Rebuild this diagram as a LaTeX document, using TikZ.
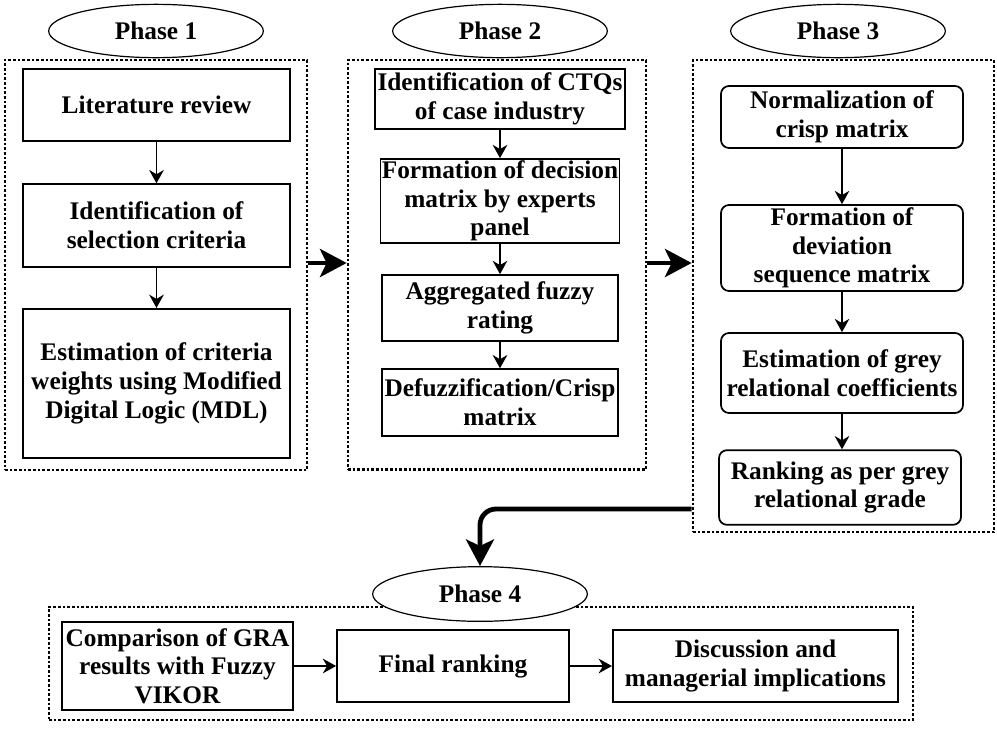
\documentclass[tikz,border=0pt]{standalone}
\usepackage{fontspec}
\setmainfont{Liberation Serif}
\usetikzlibrary{arrows.meta,shapes.geometric}

\begin{document}
\begin{tikzpicture}[x=0.75pt,y=-0.75pt,
font=\fontsize{19}{21.5}\selectfont\bfseries,
stage/.style={draw,line width=1.3pt,align=center,inner sep=1pt},
rstage/.style={stage,rounded corners=6pt},
phase/.style={draw,line width=2pt,dash pattern=on 2pt off 1.5pt},
title/.style={draw,ellipse,fill=white,line width=0.9pt,minimum width=161pt,minimum height=40pt},
flow/.style={-{Stealth[length=10pt,width=11pt]},line width=1.2pt},
jump/.style={-{Stealth[length=20pt,width=21pt,inset=5pt]},line width=3.6pt}]
\useasboundingbox (0,0) rectangle (997,729);
% dotted frames
\node[phase,minimum width=226.5pt,minimum height=307.5pt] (f1) at (156,265) {};
\node[phase,minimum width=223.5pt,minimum height=307pt] (f2) at (497,264.5) {};
\node[phase,minimum width=225.75pt,minimum height=354pt] (f3) at (843.5,296) {};
\node[phase,minimum width=648pt,minimum height=84.75pt] (f4) at (481,663.5) {};
% phase titles
\node[title] (ph1) at (156,31) {Phase 1};
\node[title] (ph2) at (500,31) {Phase 2};
\node[title] (ph3) at (838,31) {Phase 3};
\node[title,minimum height=41pt] (ph4) at (480,594) {Phase 4};
% phase 1
\node[stage,minimum width=200pt,minimum height=54pt] (lit) at (156.5,105) {Literature review};
\node[stage,minimum width=200pt,minimum height=62pt] (crit) at (156.5,225.5) {Identification of\\selection criteria};
\node[stage,minimum width=200pt,minimum height=112pt] (mdl) at (156.5,383.5) {Estimation of criteria\\weights using Modified\\Digital Logic (MDL)};
\draw[flow] (lit) -- (crit);
\draw[flow] (crit) -- (mdl);
% phase 2
\node[stage,minimum width=187.5pt,minimum height=45pt] (ctq) at (500,99) {Identification of CTQs\\of case industry};
\node[stage,minimum width=177pt,minimum height=63pt] (dmat) at (500,201) {Formation of decision\\matrix by experts\\panel};
\node[stage,minimum width=177pt,minimum height=49.5pt] (aggr) at (500,308) {Aggregated fuzzy\\rating};
\node[stage,minimum width=177pt,minimum height=50pt] (crisp) at (500,402.5) {Defuzzification/Crisp\\matrix};
\draw[flow] (ctq) -- (dmat);
\draw[flow] (dmat) -- (aggr);
\draw[flow] (aggr) -- (crisp);
% phase 3
\node[rstage,minimum width=181.5pt,minimum height=46.5pt] (norm) at (842,117) {Normalization of\\crisp matrix};
\node[rstage,minimum width=181.5pt,minimum height=64.5pt] (dev) at (842,248) {Formation of\\deviation\\sequence matrix};
\node[rstage,minimum width=181.5pt,minimum height=60pt] (grc) at (842,373) {Estimation of grey\\relational coefficients};
\node[rstage,minimum width=181.5pt,minimum height=56pt] (grg) at (840,487.5) {Ranking as per grey\\relational grade};
\draw[flow] (norm) -- (dev);
\draw[flow] (dev) -- (grc);
\draw[flow] (grc.south) -- (grc.south |- grg.north);
% phase 4
\node[stage,minimum width=173pt,minimum height=66pt] (vikor) at (177.5,666) {Comparison of GRA\\results with Fuzzy\\VIKOR};
\node[stage,minimum width=174pt,minimum height=54pt] (final) at (453,666) {Final ranking};
\node[stage,minimum width=214pt,minimum height=54pt] (disc) at (755.5,666) {Discussion and\\managerial implications};
\draw[flow] (vikor) -- (final);
\draw[flow] (final) -- (disc);
% links between phases
\coordinate (turn) at (f3.west |- 0,509);
\draw[jump] (f1.east |- 0,263) -- (f2.west |- 0,263);
\draw[jump] (f2.east |- 0,263) -- (f3.west |- 0,263);
\draw[jump,rounded corners=12pt] (turn) -| (ph4.north);
\end{tikzpicture}
\end{document}
